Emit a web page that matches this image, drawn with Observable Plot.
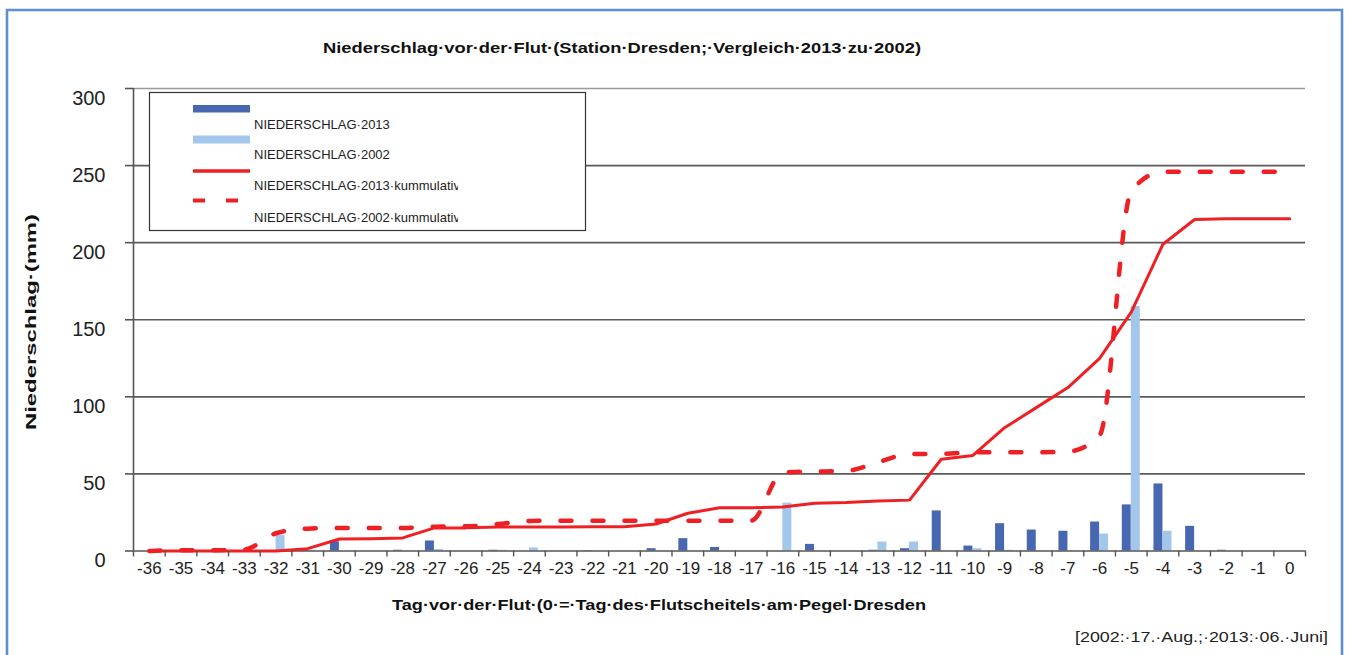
<!DOCTYPE html>
<html>
<head>
<meta charset="utf-8">
<script src="https://cdn.jsdelivr.net/npm/d3@7"></script>
<script src="https://cdn.jsdelivr.net/npm/@observablehq/plot@0.6"></script>
<style>
  html, body { margin: 0; padding: 0; background: #fff; overflow: hidden; }
  #wrap { position: relative; width: 1350px; height: 655px; }
  #wrap > svg { position: absolute; left: 0; top: 0; }
  #overlay { pointer-events: none; }
</style>
</head>
<body>
<div id="wrap"></div>
<script>
// ---- data ----
const days = [-36,-35,-34,-33,-32,-31,-30,-29,-28,-27,-26,-25,-24,-23,-22,-21,-20,-19,-18,-17,-16,-15,-14,-13,-12,-11,-10,-9,-8,-7,-6,-5,-4,-3,-2,-1,0];
const rain2013 = [0,0,0,0,0,1,6,0,0.5,6.5,0,0.5,0,0,0.3,0,1.5,8,2.3,0,0,4.3,0,0.5,1.5,26,3.2,17.7,13.6,12.8,18.8,29.9,43.5,16,0.5,0,0];
const rain2002 = [0,0.3,0,0.5,10,0.5,0,0,0,1,0,0.5,2,0,0,0,0,0,0,0,31,0,0,5.8,5.8,0,1.5,0.5,0,0,11,158.6,12.8,0,0,0,0];
const cum2013 = [0,0,0,0,0,1.5,7.8,8,8.5,15,15,15.5,15.5,15.5,15.8,15.8,17.5,24.5,28,28,28.5,31,31.5,32.5,33,59.5,62,80,93,106,125,155,199,215,215.5,215.5,215.5];
const cum2002 = [0,0.5,0.5,1,11.5,14.5,15,15,15,15.8,16,17.5,19.5,19.7,19.7,19.7,19.7,19.7,19.7,19.7,51,51.5,52,57.5,63,63,64,64,64,64.5,75,233.5,246,246,246,246,246];
const yTicks = [0,50,100,150,200,250,300];
const seriesNames = ["NIEDERSCHLAG·2013","NIEDERSCHLAG·2002","NIEDERSCHLAG·2013·kummulativ","NIEDERSCHLAG·2002·kummulativ"];
const titleText = "Niederschlag·vor·der·Flut·(Station·Dresden;·Vergleich·2013·zu·2002)";
const yLabelText = "Niederschlag·(mm)";
const xLabelText = "Tag·vor·der·Flut·(0·=·Tag·des·Flutscheitels·am·Pegel·Dresden";
const captionText = "[2002:·17.·Aug.;·2013:·06.·Juni]";

const C2013 = "#4767b1", C2002 = "#a2c7ea", RED = "#ee2024";

const rows = days.map((d, i) => ({day: d, r13: rain2013[i], r02: rain2002[i], c13: cum2013[i], c02: cum2002[i]}));
const dayBounds = [...days.map(d => d - 0.5), days[days.length - 1] + 0.5];

const FONT = "'Liberation Sans', Arial, sans-serif";
const half = 1172 / 37 / 2; // half category width in px
const barW = 9;

const chart = Plot.plot({
  width: 1350, height: 655,
  marginLeft: 133, marginRight: 45, marginTop: 88, marginBottom: 104.5,
  x: {type: "linear", domain: [-36.5, 0.5]},
  y: {domain: [0, 300]},
  style: {fontFamily: FONT, background: "transparent", color: "#222"},
  marks: [
    Plot.ruleY(yTicks.slice(1, -1), {stroke: "#5a5a5a", strokeWidth: 1.6}),
    Plot.ruleY([300], {stroke: "#9a9a9a", strokeWidth: 1.6}),
    Plot.rect(rows, {x1: d => d.day - 0.5, x2: d => d.day + 0.5, y1: 0, y2: "r13", fill: C2013, insetLeft: half - barW, insetRight: half}),
    Plot.rect(rows, {x1: d => d.day - 0.5, x2: d => d.day + 0.5, y1: 0, y2: "r02", fill: C2002, insetLeft: half, insetRight: half - barW}),
    Plot.ruleY([0], {stroke: "#555", strokeWidth: 1.6}),
    Plot.ruleX([-36.5], {stroke: "#555", strokeWidth: 1.6}),
    Plot.lineY(rows, {x: "day", y: "c13", stroke: RED, strokeWidth: 3}),
    Plot.lineY(rows, {x: "day", y: "c02", stroke: RED, strokeWidth: 4.5, strokeDasharray: "11,21", curve: "monotone-x"}),
    Plot.axisY({ticks: yTicks, tickSize: 8, tickFormat: () => "", label: null, stroke: "#555", strokeWidth: 1.6}),
    Plot.axisY({ticks: yTicks, tickSize: 0, tickPadding: 28, dy: 10, fontSize: 20, label: null, tickFormat: d => String(d)}),
    Plot.axisX({ticks: dayBounds, tickSize: 6, tickFormat: () => "", label: null, stroke: "#555", strokeWidth: 1.4}),
    Plot.axisX({ticks: days, tickSize: 0, tickPadding: 11, fontSize: 17, label: null, tickFormat: d => String(d)})
  ]
});
document.getElementById("wrap").appendChild(chart);

// ---- overlay: frame, title, axis titles, caption, legend ----
const svg = d3.select("#wrap").append("svg")
  .attr("id", "overlay").attr("width", 1350).attr("height", 655)
  .style("font-family", FONT);

svg.append("path")
  .attr("d", "M7,660 L7,10 L1342,10 L1342,660")
  .attr("fill", "none").attr("stroke", "#5e8ed2").attr("stroke-width", 2.6);

svg.append("text").text(titleText)
  .attr("x", 323).attr("y", 53).attr("font-size", 15.5).attr("font-weight", "bold")
  .attr("fill", "#111").attr("textLength", 598).attr("lengthAdjust", "spacingAndGlyphs");

svg.append("text").text(yLabelText)
  .attr("transform", "translate(36,430) rotate(-90)")
  .attr("font-size", 15).attr("font-weight", "bold").attr("fill", "#111")
  .attr("textLength", 216).attr("lengthAdjust", "spacingAndGlyphs");

svg.append("text").text(xLabelText)
  .attr("x", 392).attr("y", 609.5).attr("font-size", 15).attr("font-weight", "bold")
  .attr("fill", "#111").attr("textLength", 534).attr("lengthAdjust", "spacingAndGlyphs");

svg.append("text").text(captionText)
  .attr("x", 1075).attr("y", 641.5).attr("font-size", 15).attr("fill", "#222")
  .attr("textLength", 253).attr("lengthAdjust", "spacingAndGlyphs");

// legend
svg.append("defs").append("clipPath").attr("id", "legclip")
  .append("rect").attr("x", 150).attr("y", 93).attr("width", 308).attr("height", 137);
svg.append("rect").attr("x", 149.5).attr("y", 92.5).attr("width", 436).attr("height", 138)
  .attr("fill", "#fff").attr("stroke", "#333").attr("stroke-width", 1.2);

const lg = svg.append("g");
lg.append("rect").attr("x", 193).attr("y", 105).attr("width", 57).attr("height", 7.5).attr("fill", C2013);
lg.append("rect").attr("x", 193).attr("y", 135.5).attr("width", 57).attr("height", 8).attr("fill", C2002);
lg.append("line").attr("x1", 193).attr("x2", 250).attr("y1", 171).attr("y2", 171)
  .attr("stroke", RED).attr("stroke-width", 3.5);
lg.append("line").attr("x1", 193).attr("x2", 250).attr("y1", 200.5).attr("y2", 200.5)
  .attr("stroke", RED).attr("stroke-width", 4).attr("stroke-dasharray", "12,21");

const textYs = [128.5, 159, 190, 221.5];
seriesNames.forEach((name, i) => {
  lg.append("text").text(name).attr("x", 254).attr("y", textYs[i])
    .attr("font-size", 13).attr("fill", "#222").attr("clip-path", "url(#legclip)");
});
</script>
</body>
</html>
